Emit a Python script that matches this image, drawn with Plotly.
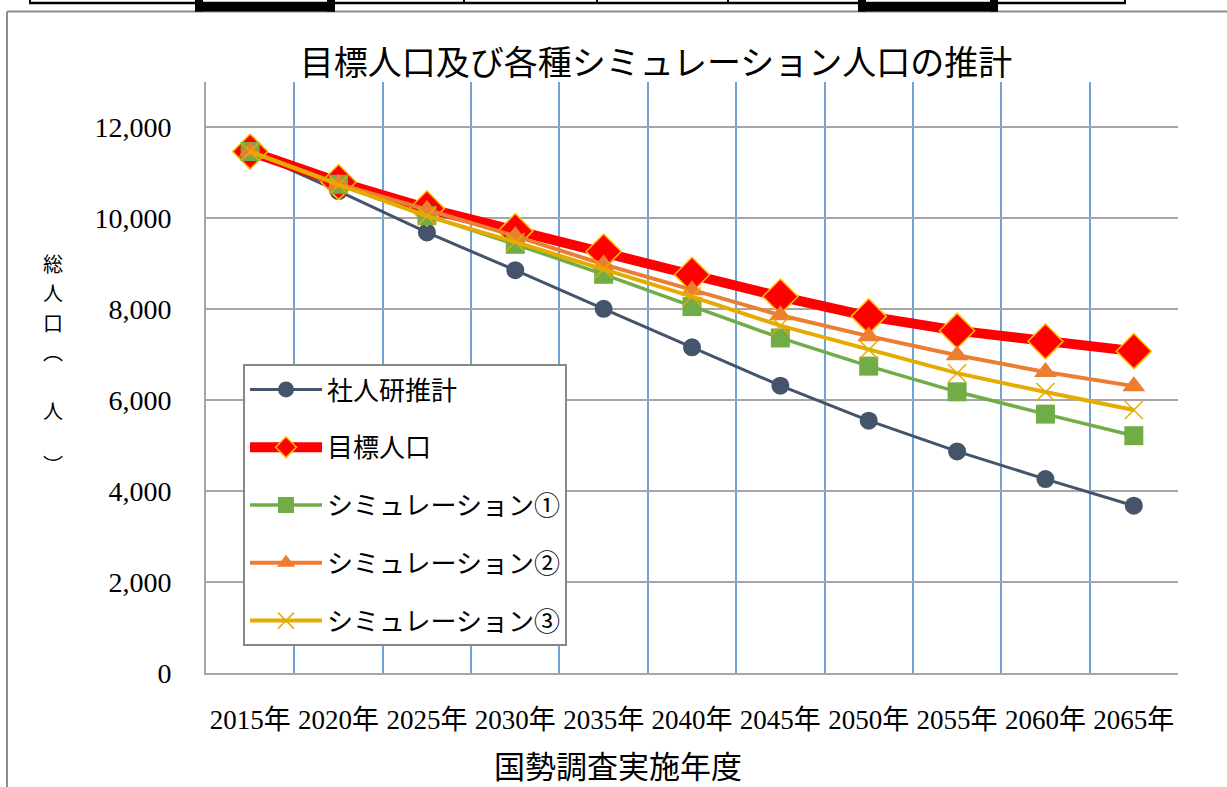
import plotly.graph_objects as go

# ---- data ----
years = ["2015年", "2020年", "2025年", "2030年", "2035年", "2040年",
         "2045年", "2050年", "2055年", "2060年", "2065年"]
ipss = [11470, 10600, 9690, 8860, 8010, 7165, 6320, 5550, 4875, 4265, 3680]
target = [11470, 10800, 10220, 9720, 9270, 8760, 8280, 7845, 7530, 7295, 7080]
sim1 = [11470, 10750, 10060, 9430, 8770, 8060, 7370, 6750, 6185, 5695, 5220]
sim2 = [11470, 10760, 10190, 9610, 8990, 8420, 7870, 7410, 6990, 6620, 6310]
sim3 = [11470, 10740, 10050, 9480, 8880, 8280, 7640, 7110, 6595, 6180, 5785]
series_names = ["社人研推計", "目標人口", "シミュレーション①", "シミュレーション②", "シミュレーション③"]
y_ticks = [0, 2000, 4000, 6000, 8000, 10000, 12000]
title_text = "目標人口及び各種シミュレーション人口の推計"
x_title = "国勢調査実施年度"
y_title_chars = ["総", "人", "口", "︵", "人", "︶"]

# ---- layout geometry (pixels) ----
W, H = 1227, 787
L, R, T, B = 206, 1178, 82, 673
PW, PH = R - L, B - T


def px(x):
    return (x - L) / PW


def py(y):
    return (B - y) / PH


JP = "Noto Sans CJK JP"
SERIF_JP = "Liberation Serif, Noto Sans CJK JP"

fig = go.Figure()

styles = [
    dict(line=dict(color="#44546A", width=3),
         marker=dict(symbol="circle", size=18, color="#44546A")),
    dict(line=dict(color="#FF0000", width=10),
         marker=dict(symbol="diamond", size=27, color="#FF0000",
                     line=dict(color="#FFC000", width=1.5))),
    dict(line=dict(color="#70AD47", width=3.5),
         marker=dict(symbol="square", size=19, color="#70AD47")),
    dict(line=dict(color="#ED7D31", width=4),
         marker=dict(symbol="triangle-up", size=20, color="#ED7D31")),
    dict(line=dict(color="#E5AB00", width=4),
         marker=dict(symbol="x-thin-open", size=18, color="#E5AB00",
                     line=dict(color="#E5AB00", width=1.5))),
]

for i, (name, vals) in enumerate(zip(series_names, [ipss, target, sim1, sim2, sim3])):
    fig.add_trace(go.Scatter(
        x=years, y=vals, name=name, mode="lines+markers",
        legendgroup=f"g{i}", **styles[i]))

# decorations: page frame and table fragment at top
shapes = [
    dict(type="line", x0=px(7), x1=px(1227), y0=py(11.5), y1=py(11.5),
         line=dict(color="#8C8C8C", width=2)),
    dict(type="line", x0=px(7), x1=px(7), y0=py(11.5), y1=py(787),
         line=dict(color="#8C8C8C", width=2)),
    dict(type="line", x0=px(29), x1=px(1126), y0=py(3), y1=py(3),
         line=dict(color="black", width=2.5)),
]
for xv in [30, 464, 597, 728, 1125]:
    shapes.append(dict(type="line", x0=px(xv), x1=px(xv), y0=py(0), y1=py(4),
                       line=dict(color="black", width=2)))
for (a, b) in [(195, 335), (858, 998)]:
    shapes.append(dict(type="rect", x0=px(a), x1=px(b), y0=py(3), y1=py(11.5),
                       fillcolor="black", line=dict(width=0)))
    for (c, d) in [(a, a + 8), (b - 8, b)]:
        shapes.append(dict(type="rect", x0=px(c), x1=px(d), y0=py(0), y1=py(11.5),
                           fillcolor="black", line=dict(width=0)))
for s in shapes:
    s["xref"] = "paper"
    s["yref"] = "paper"
    s["layer"] = "above"

annotations = [
    dict(text=x_title, x=px(618), y=py(764), xref="paper", yref="paper",
         showarrow=False, xanchor="center", yanchor="middle",
         font=dict(family=JP, size=31, color="black")),
]
# vertical (stacked) y-axis title, one glyph per annotation
for ch, yc in zip(y_title_chars, [263, 292.5, 322, 351, 410, 464]):
    annotations.append(dict(text=ch, x=px(53), y=py(yc), xref="paper", yref="paper",
                            showarrow=False, xanchor="center", yanchor="middle",
                            borderpad=0,
                            font=dict(family=JP, size=20, color="black")))

fig.update_layout(
    width=W, height=H,
    margin=dict(l=L, r=W - R, t=T, b=H - B, autoexpand=False),
    paper_bgcolor="white", plot_bgcolor="white",
    title=dict(text=title_text, x=656 / W, xanchor="center",
               y=1 - 63 / H, yanchor="middle", yref="container",
               font=dict(family=JP, size=34, color="black")),
    xaxis=dict(type="category", range=[-0.5, 10.5], tickson="boundaries",
               showgrid=True, gridcolor="#6FA3D8", gridwidth=1.5,
               showline=True, linecolor="#A6A6A6", linewidth=2,
               ticks="", tickangle=0, ticklabelstandoff=22,
               tickfont=dict(family=SERIF_JP, size=27, color="black"),
               automargin=False, fixedrange=True),
    yaxis=dict(range=[0, 13000], tickvals=y_ticks, tickformat=",",
               showgrid=True, gridcolor="#A6A6A6", gridwidth=1.5,
               zeroline=False, showline=True, linecolor="#A6A6A6", linewidth=2,
               ticks="", ticklabelstandoff=27,
               tickfont=dict(family="Liberation Serif", size=28, color="black"),
               automargin=False, fixedrange=True),
    legend=dict(x=px(243), y=py(364), xanchor="left", yanchor="top",
                bgcolor="white", bordercolor="#888888", borderwidth=2,
                font=dict(family=SERIF_JP, size=26, color="black"),
                tracegroupgap=21, itemwidth=72, traceorder="grouped"),
    shapes=shapes,
    annotations=annotations,
    showlegend=True,
)

fig.write_html("out.html", config={"displayModeBar": False},
               post_script="document.body.style.margin='0';")
